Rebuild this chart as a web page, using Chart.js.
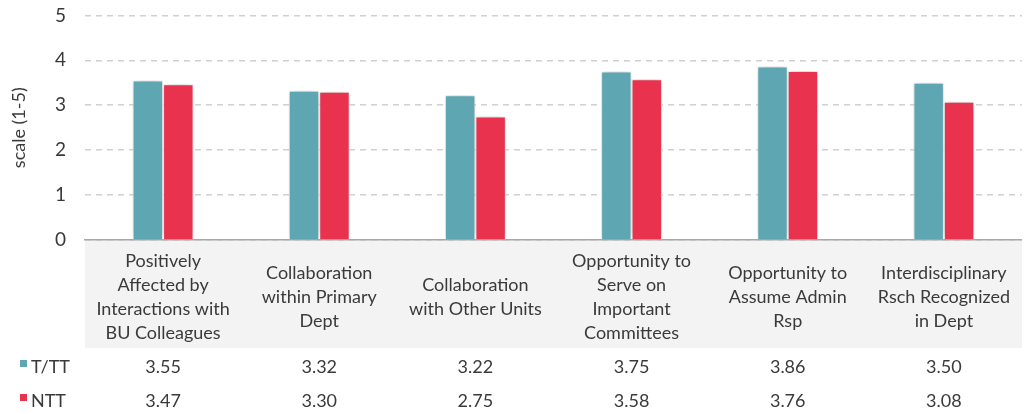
<!DOCTYPE html>
<html>
<head>
<meta charset="utf-8">
<script src="https://cdn.jsdelivr.net/npm/chart.js@4.4.1/dist/chart.umd.min.js"></script>
<style>
  html, body { margin: 0; padding: 0; background: #fff; }
  #wrap { width: 1031px; height: 414px; }
</style>
</head>
<body>
<div id="wrap"><canvas id="myChart"></canvas></div>
<script>
let categories = [
  ['Positively', 'Affected by', 'Interactions with', 'BU Colleagues'],
  ['Collaboration', 'within Primary', 'Dept'],
  ['Collaboration', 'with Other Units'],
  ['Opportunity to', 'Serve on', 'Important', 'Committees'],
  ['Opportunity to', 'Assume Admin', 'Rsp'],
  ['Interdisciplinary', 'Rsch Recognized', 'in Dept']
];
let seriesNames = ['T/TT', 'NTT'];
let ttValues = [3.55, 3.32, 3.22, 3.75, 3.86, 3.50];
let nttValues = [3.47, 3.30, 2.75, 3.58, 3.76, 3.08];
let colorHex = ['#5ea6b2', '#e9324e'];

const FONT = 'Lato, "Open Sans", sans-serif';
const TEXT = '#3a3a3a';

// grey band behind the category labels
const bandPlugin = {
  id: 'band',
  beforeDraw(chart) {
    const x = chart.scales.x;
    const c = chart.ctx;
    c.save();
    c.fillStyle = '#f3f3f3';
    c.fillRect(x.left, x.top, x.right - x.left, 108);
    c.restore();
  }
};

// soft shadow under the bars
const shadowPlugin = {
  id: 'barShadow',
  beforeDatasetsDraw(chart) {
    const c = chart.ctx;
    c.save();
    c.shadowColor = 'rgba(0,0,0,0.25)';
    c.shadowBlur = 10;
    c.shadowOffsetY = -1;
  },
  afterDatasetsDraw(chart) {
    chart.ctx.restore();
  }
};

// data table under the axis
const tablePlugin = {
  id: 'dataTable',
  afterDraw(chart) {
    const c = chart.ctx;
    const x = chart.scales.x;
    const top = chart.chartArea.bottom;
    c.save();
    c.font = '18px ' + FONT;
    c.textBaseline = 'middle';
    chart.data.datasets.forEach((ds, i) => {
      const y = top + 127 + i * 34;
      c.fillStyle = ds.backgroundColor;
      c.fillRect(20, y - 7, 7, 7);
      c.fillStyle = TEXT;
      c.textAlign = 'left';
      c.fillText(ds.label, 31, y);
      c.textAlign = 'center';
      ds.data.forEach((v, j) => {
        c.fillText(v.toFixed(2), x.getPixelForValue(j), y);
      });
    });
    c.restore();
  }
};

new Chart(document.getElementById('myChart').getContext('2d'), {
  type: 'bar',
  data: {
    labels: categories,
    datasets: [
      { label: seriesNames[0], data: ttValues, backgroundColor: colorHex[0] },
      { label: seriesNames[1], data: nttValues, backgroundColor: colorHex[1] }
    ]
  },
  options: {
    responsive: true,
    maintainAspectRatio: false,
    animation: false,
    layout: { padding: 0 },
    datasets: {
      bar: {
        categoryPercentage: 0.39,
        barPercentage: 1,
        borderColor: '#ffffff',
        borderWidth: 1
      }
    },
    plugins: {
      legend: { display: false },
      tooltip: { enabled: false }
    },
    scales: {
      x: {
        afterFit(scale) { scale.height = 174; },
        grid: { display: false, drawTicks: false },
        border: { display: true, color: '#a8a8a8', width: 1.5 },
        ticks: {
          color: TEXT,
          font: { family: FONT, size: 18, lineHeight: 1.33 },
          padding: 21,
          crossAlign: 'center',
          maxRotation: 0,
          autoSkip: false
        }
      },
      y: {
        min: 0,
        max: 5,
        afterFit(scale) { scale.width = 85; },
        grid: { color: '#d0d0d0', lineWidth: 1.5, drawTicks: true, tickLength: 15, tickColor: 'transparent' },
        border: { display: false, dash: [6, 5] },
        ticks: {
          stepSize: 1,
          color: TEXT,
          padding: 4,
          font: { family: FONT, size: 19 }
        },
        title: {
          display: true,
          text: 'scale (1-5)',
          color: TEXT,
          font: { family: FONT, size: 18 },
          padding: { top: 8, bottom: 0 }
        }
      }
    }
  },
  plugins: [bandPlugin, shadowPlugin, tablePlugin]
});
</script>
</body>
</html>
